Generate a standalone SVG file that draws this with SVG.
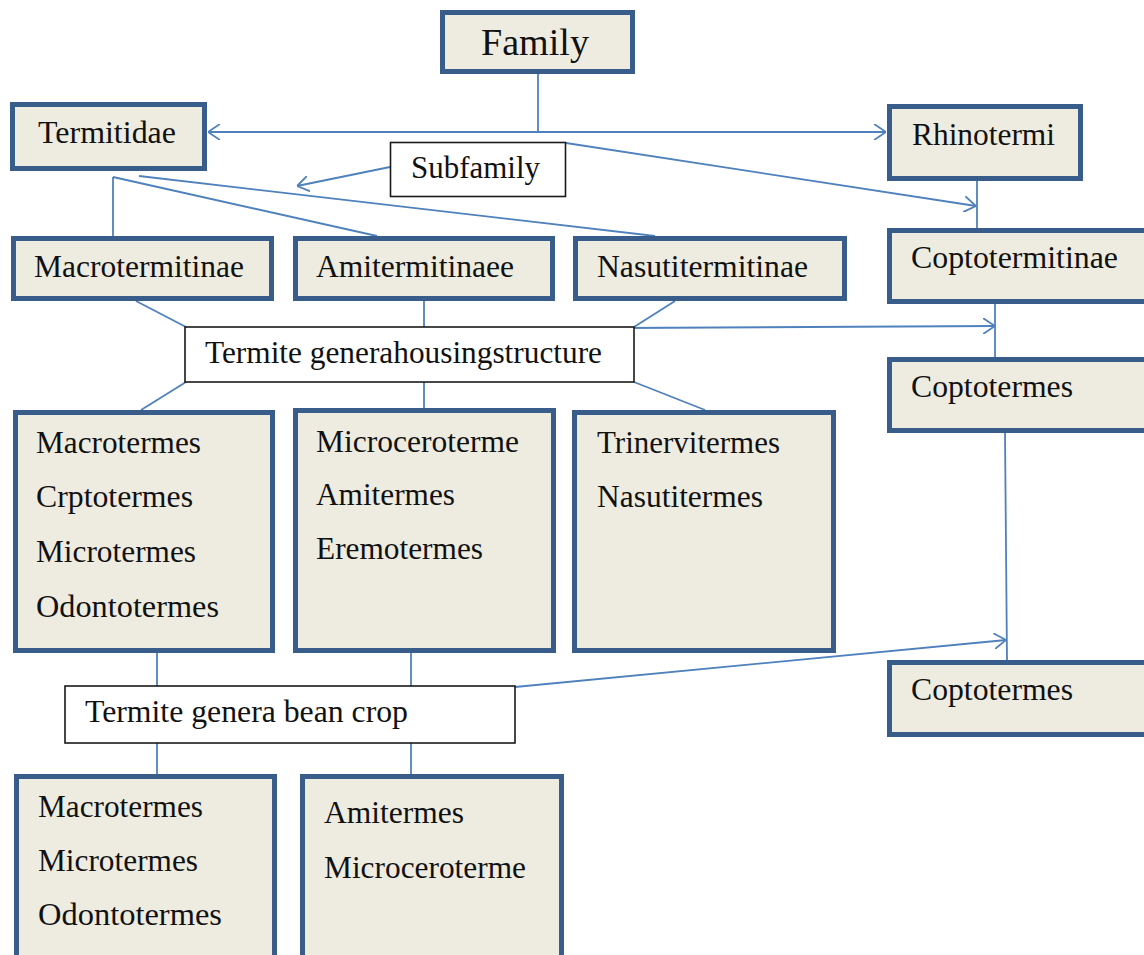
<svg xmlns="http://www.w3.org/2000/svg" width="1144" height="955" viewBox="0 0 1144 955">
<style>
.box{fill:#EEECE1;stroke:#385D8A;stroke-width:5}
.lbl{fill:#FFFFFF;stroke:#1A1A1A;stroke-width:1.6}
.t{font-family:"Liberation Serif","Times New Roman",serif;font-size:31px;fill:#111111}
.c{stroke:#4F81BD;stroke-width:1.8;fill:none}
</style>
<defs>
<marker id="arr" viewBox="0 0 12 16" refX="12" refY="8" markerWidth="12" markerHeight="16" markerUnits="userSpaceOnUse" orient="auto">
<path d="M0,0 L12,8 L0,16" fill="none" stroke="#4F81BD" stroke-width="1.8"/>
</marker>
</defs>
<rect width="1144" height="955" fill="#FFFFFF"/>
<g id="connectors">
<line class="c" x1="538" y1="74" x2="538" y2="132"/>
<line class="c" x1="538" y1="132" x2="208" y2="132" marker-end="url(#arr)"/>
<line class="c" x1="538" y1="132" x2="886" y2="132" marker-end="url(#arr)"/>
<line class="c" x1="566" y1="143" x2="976" y2="206" marker-end="url(#arr)"/>
<line class="c" x1="977" y1="181" x2="977" y2="229"/>
<line class="c" x1="390" y1="167" x2="297" y2="186" marker-end="url(#arr)"/>
<line class="c" x1="113" y1="177" x2="113" y2="237"/>
<line class="c" x1="113" y1="177" x2="377" y2="236"/>
<line class="c" x1="139" y1="176" x2="655" y2="236"/>
<line class="c" x1="136" y1="301" x2="186" y2="327"/>
<line class="c" x1="424" y1="301" x2="424" y2="327"/>
<line class="c" x1="675" y1="301" x2="634" y2="327"/>
<line class="c" x1="622" y1="328" x2="995" y2="326" marker-end="url(#arr)"/>
<line class="c" x1="995" y1="304" x2="995" y2="358"/>
<line class="c" x1="186" y1="382" x2="141" y2="410"/>
<line class="c" x1="424" y1="382" x2="424" y2="410"/>
<line class="c" x1="634" y1="382" x2="705" y2="410"/>
<line class="c" x1="1005" y1="433" x2="1007" y2="661"/>
<line class="c" x1="515" y1="687" x2="1006" y2="640" marker-end="url(#arr)"/>
<line class="c" x1="157" y1="653" x2="157" y2="686"/>
<line class="c" x1="411" y1="653" x2="411" y2="686"/>
<line class="c" x1="157" y1="743" x2="157" y2="776"/>
<line class="c" x1="411" y1="743" x2="411" y2="776"/>
</g>
<g id="family">
<rect class="box" x="442.5" y="12.5" width="190" height="59"/>
<text class="t" x="481" y="55" style="font-size:37px" textLength="108" lengthAdjust="spacingAndGlyphs">Family</text>
</g>
<g id="termitidae">
<rect class="box" x="12.5" y="104.5" width="192" height="64"/>
<text class="t" x="38" y="143" textLength="138" lengthAdjust="spacingAndGlyphs">Termitidae</text>
</g>
<g id="rhinotermi">
<rect class="box" x="889.5" y="106.5" width="191" height="72"/>
<text class="t" x="912" y="145" textLength="143" lengthAdjust="spacingAndGlyphs">Rhinotermi</text>
</g>
<g id="subfamily">
<rect class="lbl" x="390.5" y="142.5" width="175" height="54"/>
<text class="t" x="411" y="178" textLength="129" lengthAdjust="spacingAndGlyphs">Subfamily</text>
</g>
<g id="macrotermitinae">
<rect class="box" x="13.5" y="238.5" width="258" height="60"/>
<text class="t" x="34" y="277" textLength="210" lengthAdjust="spacingAndGlyphs">Macrotermitinae</text>
</g>
<g id="amitermitinaee">
<rect class="box" x="295.5" y="238.5" width="257" height="60"/>
<text class="t" x="316" y="277" textLength="198" lengthAdjust="spacingAndGlyphs">Amitermitinaee</text>
</g>
<g id="nasutitermitinae">
<rect class="box" x="575.5" y="238.5" width="269" height="60"/>
<text class="t" x="597" y="277" textLength="211" lengthAdjust="spacingAndGlyphs">Nasutitermitinae</text>
</g>
<g id="coptotermitinae">
<rect class="box" x="889.5" y="230.5" width="260" height="71"/>
<text class="t" x="911" y="268" textLength="207" lengthAdjust="spacingAndGlyphs">Coptotermitinae</text>
</g>
<g id="housing">
<rect class="lbl" x="185" y="327" width="449" height="55"/>
<text class="t" x="205" y="363" textLength="397" lengthAdjust="spacingAndGlyphs">Termite generahousingstructure</text>
</g>
<g id="coptotermes1">
<rect class="box" x="889.5" y="359.5" width="260" height="71"/>
<text class="t" x="911" y="397" textLength="162" lengthAdjust="spacingAndGlyphs">Coptotermes</text>
</g>
<g id="macro-genera">
<rect class="box" x="15.5" y="412.5" width="257" height="238"/>
<text class="t" x="36" y="453" textLength="165" lengthAdjust="spacingAndGlyphs">Macrotermes</text>
<text class="t" x="36" y="507" textLength="157" lengthAdjust="spacingAndGlyphs">Crptotermes</text>
<text class="t" x="36" y="562" textLength="160" lengthAdjust="spacingAndGlyphs">Microtermes</text>
<text class="t" x="36" y="617" textLength="183" lengthAdjust="spacingAndGlyphs">Odontotermes</text>
</g>
<g id="ami-genera">
<rect class="box" x="295.5" y="410.5" width="258" height="240"/>
<text class="t" x="316" y="452" textLength="203" lengthAdjust="spacingAndGlyphs">Microceroterme</text>
<text class="t" x="316" y="505" textLength="139" lengthAdjust="spacingAndGlyphs">Amitermes</text>
<text class="t" x="316" y="559" textLength="167" lengthAdjust="spacingAndGlyphs">Eremotermes</text>
</g>
<g id="nasuti-genera">
<rect class="box" x="574.5" y="412.5" width="259" height="238"/>
<text class="t" x="597" y="453" textLength="183" lengthAdjust="spacingAndGlyphs">Trinervitermes</text>
<text class="t" x="597" y="507" textLength="166" lengthAdjust="spacingAndGlyphs">Nasutitermes</text>
</g>
<g id="coptotermes2">
<rect class="box" x="889.5" y="662.5" width="260" height="72"/>
<text class="t" x="911" y="700" textLength="162" lengthAdjust="spacingAndGlyphs">Coptotermes</text>
</g>
<g id="beancrop">
<rect class="lbl" x="65" y="686" width="450" height="57"/>
<text class="t" x="85" y="722" textLength="323" lengthAdjust="spacingAndGlyphs">Termite genera bean crop</text>
</g>
<g id="bean-macro">
<rect class="box" x="16.5" y="776.5" width="258" height="200"/>
<text class="t" x="38" y="817" textLength="165" lengthAdjust="spacingAndGlyphs">Macrotermes</text>
<text class="t" x="38" y="871" textLength="160" lengthAdjust="spacingAndGlyphs">Microtermes</text>
<text class="t" x="38" y="925" textLength="184" lengthAdjust="spacingAndGlyphs">Odontotermes</text>
</g>
<g id="bean-ami">
<rect class="box" x="302.5" y="776.5" width="259" height="200"/>
<text class="t" x="324" y="823" textLength="140" lengthAdjust="spacingAndGlyphs">Amitermes</text>
<text class="t" x="324" y="878" textLength="202" lengthAdjust="spacingAndGlyphs">Microceroterme</text>
</g>
</svg>
